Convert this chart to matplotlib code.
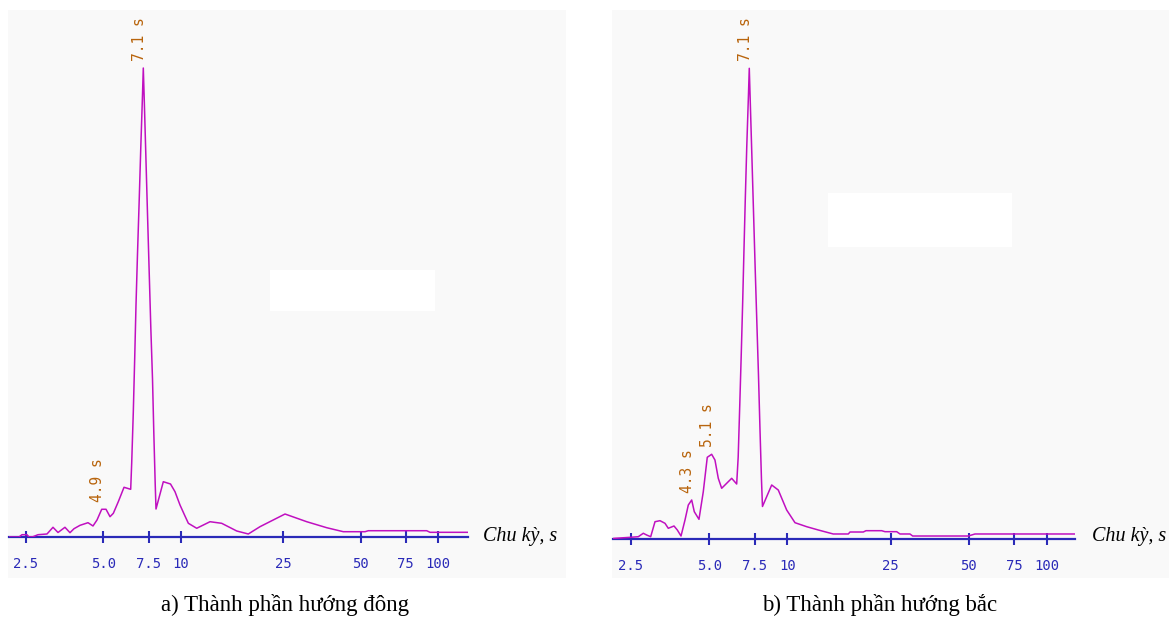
import numpy as np
import matplotlib
matplotlib.use("Agg")
import matplotlib.pyplot as plt
from matplotlib.patches import Rectangle
from matplotlib.ticker import NullLocator

# Phổ theo chu kỳ (s), biên độ chuẩn hoá (%)
chu_ky_dong = [2.148, 2.349, 2.413, 2.523, 2.569, 2.663, 2.785, 3.018, 3.185, 3.331,
               3.545, 3.708, 3.844, 4.056, 4.357, 4.556, 4.722, 4.926, 5.120, 5.306,
               5.466, 5.715, 6.015, 6.385, 6.443, 6.536, 6.619, 6.696, 6.786, 6.891,
               6.990, 7.097, 7.148, 7.206, 7.310, 7.422, 7.535, 7.646, 7.762, 7.852,
               7.952, 8.009, 8.551, 9.120, 9.493, 9.929, 10.38, 10.70, 11.53, 12.99,
               14.42, 16.50, 18.30, 20.32, 25.42, 30.87, 36.93, 42.83, 52.03, 53.58,
               90.38, 93.09, 130.8]
bien_do_dong = [0.0, 0.0, 0.49, 0.49, 0.0, 0.06, 0.49, 0.64, 2.07, 0.96,
                2.07, 0.92, 1.77, 2.49, 3.05, 2.35, 3.62, 5.91, 5.91, 4.33,
                5.05, 7.53, 10.60, 10.17, 15.78, 26.65, 38.17, 49.47, 60.34, 71.86,
                83.16, 94.24, 100.0, 93.60, 81.66, 68.87, 56.50, 44.56, 33.69, 22.39,
                11.30, 5.97, 11.79, 11.30, 9.66, 6.82, 4.48, 2.92, 1.86, 3.26,
                2.92, 1.28, 0.64, 2.20, 4.90, 3.26, 1.98, 1.13, 1.13, 1.34,
                1.34, 1.00, 1.00]

chu_ky_bac = [2.130, 2.168, 2.492, 2.666, 2.787, 2.872, 2.976, 3.092, 3.232, 3.379,
              3.479, 3.660, 3.769, 3.895, 4.035, 4.155, 4.282, 4.382, 4.568, 4.746,
              4.917, 5.112, 5.264, 5.422, 5.587, 5.841, 6.106, 6.383, 6.469, 6.561,
              6.648, 6.731, 6.809, 6.889, 6.980, 7.087, 7.138, 7.194, 7.298, 7.408,
              7.521, 7.630, 7.745, 7.849, 7.955, 8.025, 8.709, 9.233, 9.947, 10.71,
              11.88, 13.17, 15.04, 17.19, 17.45, 19.63, 20.11, 23.11, 23.80, 26.41,
              27.19, 29.71, 30.43, 49.83, 52.89, 128.5]
bien_do_bac = [0.0, 0.04, 0.26, 0.38, 1.11, 0.74, 0.38, 3.57, 3.79, 3.23,
               2.17, 2.66, 1.81, 0.53, 3.93, 7.12, 8.19, 5.70, 4.08, 9.95,
               17.27, 17.91, 16.69, 12.80, 10.68, 11.74, 12.80, 11.59, 17.33, 28.48,
               39.28, 50.09, 61.27, 72.08, 83.26, 94.41, 100.0, 93.68, 82.11, 69.86,
               57.53, 46.36, 34.81, 23.29, 12.44, 6.81, 11.38, 10.31, 6.06, 3.36,
               2.51, 1.81, 0.96, 0.96, 1.38, 1.38, 1.66, 1.66, 1.45, 1.45,
               0.96, 0.96, 0.53, 0.53, 0.96, 0.96]

dinh_dong = [4.926, 7.148]
nhan_dong = ["4.9 s", "7.1 s"]
dinh_bac = [4.282, 5.112, 7.138]
nhan_bac = ["4.3 s", "5.1 s", "7.1 s"]

vach_x = [2.5, 5, 7.5, 10, 25, 50, 75, 100]
nhan_x = ["2.5", "5.0", "7.5", "10", "25", "50", "75", "100"]
tieu_de = ["a) Thành phần hướng đông", "b) Thành phần hướng bắc"]

W, H = 1169, 619
xanh = "#2a2ab8"
tim = "#c010c0"
cam = "#b8640c"


def khung(x0, y0, x1, y1):
    return [x0 / W, 1 - y1 / H, (x1 - x0) / W, (y1 - y0) / H]


def hop(fig, x0, y0, x1, y1, mau):
    r = khung(x0, y0, x1, y1)
    fig.add_artist(Rectangle((r[0], r[1]), r[2], r[3], transform=fig.transFigure,
                             facecolor=mau, edgecolor="none", zorder=0))


fig = plt.figure(figsize=(W / 100, H / 100), dpi=100)

# nền xám nhạt của hai khung
hop(fig, 8, 10, 566, 578, "#f9f9f9")
hop(fig, 612, 10, 1169, 578, "#f9f9f9")
hop(fig, 270, 270, 435, 311, "white")
hop(fig, 828, 193, 1012, 247, "white")


def ve(rect, xlim, ytop, x, y, dinh, nhan):
    ax = fig.add_axes(rect)
    ax.set_facecolor("none")
    ax.plot(x, y, color=tim, lw=1.1, zorder=3)
    ax.set_xscale("log")
    ax.set_xlim(xlim)
    ax.set_ylim(0, ytop)
    for s in ["top", "right", "left"]:
        ax.spines[s].set_visible(False)
    ax.spines["bottom"].set_color(xanh)
    ax.spines["bottom"].set_linewidth(1.6)
    ax.set_yticks([])
    ax.set_xticks(vach_x, nhan_x)
    ax.xaxis.set_minor_locator(NullLocator())
    ax.tick_params(axis="x", direction="inout", length=8, width=1.5, color=xanh,
                   labelcolor=xanh, pad=10.5, labelsize=10)
    for lb in ax.get_xticklabels():
        lb.set_fontfamily("DejaVu Sans Mono")
    for px, t in zip(dinh, nhan):
        py = np.interp(px, x, y)
        ax.annotate(t, (px, py), xytext=(-3, 5), textcoords="offset points",
                    rotation=90, ha="center", va="bottom", color=cam,
                    fontsize=10.5, family="DejaVu Sans Mono")
    return ax


ve(khung(9, 10, 468, 537), (2.148, 130.8), 112.37, chu_ky_dong, bien_do_dong, dinh_dong, nhan_dong)
ve(khung(613, 10, 1075, 538.5), (2.130, 128.5), 112.40, chu_ky_bac, bien_do_bac, dinh_bac, nhan_bac)

for xp in [483, 1092]:
    fig.text(xp / W, 1 - 537 / H, "Chu kỳ, s", ha="left", va="center",
             family="Liberation Serif", style="italic", fontsize=14.5)

fig.text(285 / W, 1 - 605 / H, tieu_de[0], ha="center", va="center",
         family="Liberation Serif", fontsize=16.5)
fig.text(880 / W, 1 - 605 / H, tieu_de[1], ha="center", va="center",
         family="Liberation Serif", fontsize=16.5)

fig.savefig("out.png", dpi=100)
